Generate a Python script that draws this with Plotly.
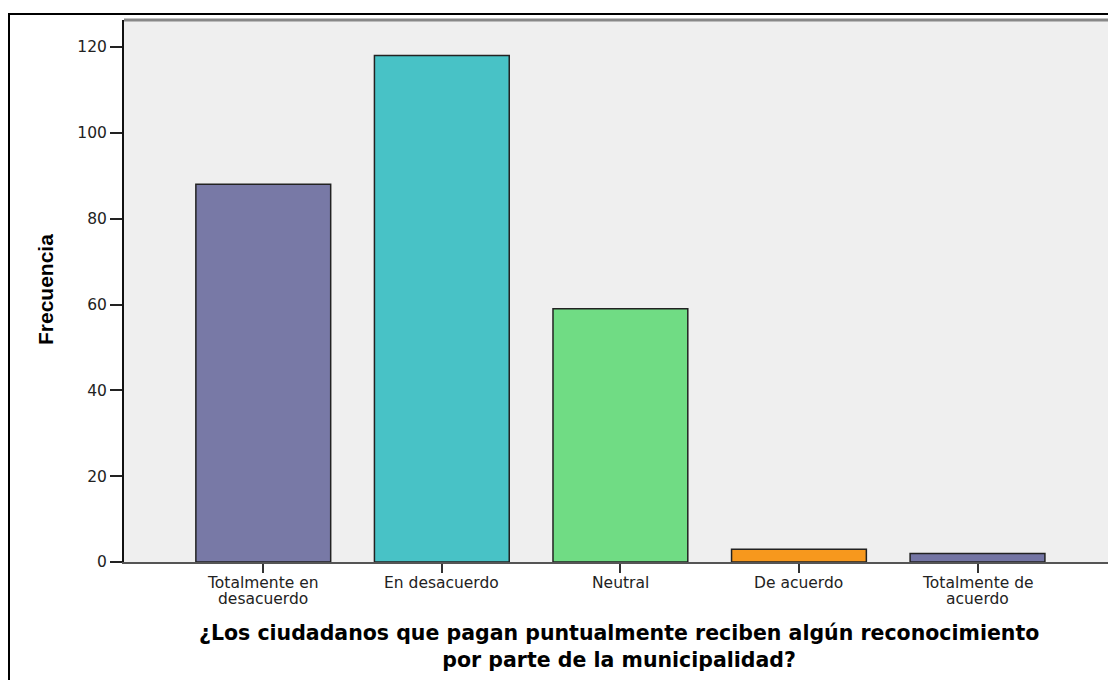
import plotly.graph_objects as go

categories = ["Totalmente en<br>desacuerdo", "En desacuerdo", "Neutral", "De acuerdo", "Totalmente de<br>acuerdo"]
values = [88, 118, 59, 3, 2]
colors = ["#7879A6", "#48C2C6", "#70DC84", "#F7981D", "#7475A4"]
y_ticks = [0, 20, 40, 60, 80, 100, 120]
y_title = "Frecuencia"
x_title_lines = ["¿Los ciudadanos que pagan puntualmente reciben algún reconocimiento",
                 "por parte de la municipalidad?"]

# page has an 8px body margin; figure coordinates = page coordinates - 8
OFF = 8
W, H = 1116 - OFF, 680 - OFF
L, R, T, B = 124 - OFF, 1, 20 - OFF, 118
pw, ph = W - L - R, H - T - B

def px_x(p):  # page px -> paper x
    return (p - OFF - L) / pw

def px_y(p):  # page px -> paper y
    return (H - B - (p - OFF)) / ph

TICK_FONT = dict(family="DejaVu Sans, Verdana, sans-serif", size=15.5, color="#222222")

fig = go.Figure(go.Bar(
    x=list(range(len(values))), y=values, width=0.755,
    marker=dict(color=colors, line=dict(color="#222222", width=1.5)),
))

fig.update_layout(
    width=W, height=H, margin=dict(l=L, r=R, t=T, b=B),
    paper_bgcolor="white", plot_bgcolor="#EFEFEF", showlegend=False,
    font=dict(family="DejaVu Sans, sans-serif", size=15.5, color="#222222"),
    xaxis=dict(range=[-0.78, 4.77], tickmode="array", tickvals=list(range(len(values))),
               showticklabels=False, ticks="outside", ticklen=9, tickwidth=2, tickcolor="#333333",
               showline=True, linecolor="#555555", linewidth=2, showgrid=False, zeroline=False),
    yaxis=dict(range=[0, 126.3], tickvals=y_ticks, ticks="outside", ticklen=12, tickwidth=2,
               tickcolor="#222222", showline=True, linecolor="#111111", linewidth=2,
               showgrid=False, zeroline=False, tickfont=TICK_FONT),
)

shapes = [
    dict(type="rect", xref="paper", yref="paper", x0=px_x(9), x1=px_x(1140), y0=px_y(720), y1=px_y(14),
         line=dict(color="black", width=2), fillcolor="rgba(0,0,0,0)", layer="below"),
    dict(type="line", xref="paper", yref="paper", x0=0, x1=1, y0=1, y1=1,
         line=dict(color="#888888", width=3)),
    dict(type="line", xref="paper", yref="paper", x0=1, x1=1, y0=0, y1=1,
         line=dict(color="#888888", width=2)),
]
fig.update_layout(shapes=shapes)

ann = [
    dict(text="<b>" + y_title + "</b>", xref="paper", yref="paper", x=px_x(45), y=px_y(290),
         textangle=-90, showarrow=False, xanchor="center", yanchor="middle",
         font=dict(size=21, family="Liberation Sans, Arial, sans-serif", color="black")),
]
# category labels (one annotation per line, positioned by the x axis scale)
for i, cat in enumerate(categories):
    for j, line in enumerate(cat.split("<br>")):
        ann.append(dict(text=line, xref="x", yref="paper", x=i, y=px_y(582.5 + 16 * j),
                        showarrow=False, xanchor="center", yanchor="middle", font=TICK_FONT))
ann.append(dict(text="<br>".join("<b>" + l + "</b>" for l in x_title_lines),
                xref="paper", yref="paper", x=px_x(619), y=px_y(646), showarrow=False,
                xanchor="center", yanchor="middle", align="center",
                font=dict(size=20.5, family="DejaVu Sans, Verdana, sans-serif", color="black")))
fig.update_layout(annotations=ann)

fig.write_html("out.html")
